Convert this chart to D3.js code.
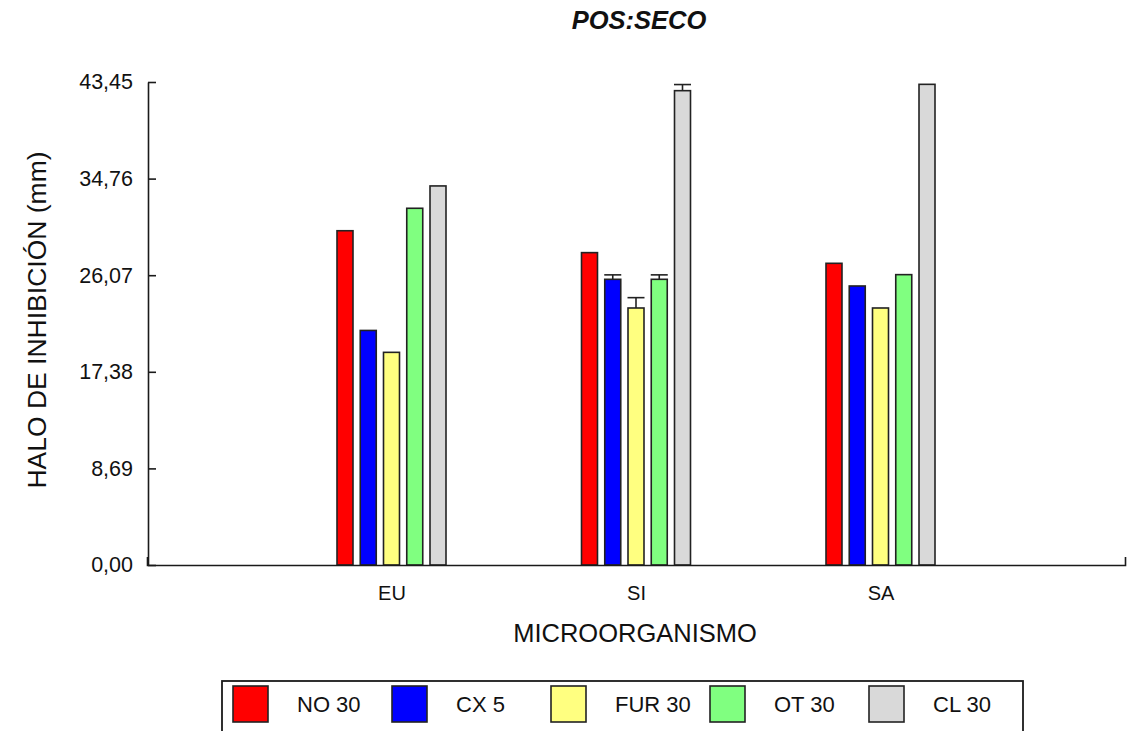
<!DOCTYPE html>
<html>
<head>
<meta charset="utf-8">
<script src="https://cdn.jsdelivr.net/npm/d3@7"></script>
<style>
html,body{margin:0;padding:0;background:#fff;}
svg{display:block;font-family:"Liberation Sans",Arial,sans-serif;}
</style>
</head>
<body>
<svg id="chart" width="1134" height="731"></svg>
<script>
const categories = ["EU", "SI", "SA"];
const seriesNames = ["NO 30", "CX 5", "FUR 30", "OT 30", "CL 30"];
const seriesColors = ["#ff0000", "#0000ff", "#ffff80", "#80ff80", "#d9d9d9"];
const valuesNO30  = [30.07, 28.10, 27.14];
const valuesCX5   = [21.10, 25.70, 25.10];
const valuesFUR30 = [19.13, 23.12, 23.12];
const valuesOT30  = [32.09, 25.70, 26.12];
const valuesCL30  = [34.10, 42.67, 43.24];
const errNO30  = [0, 0, 0];
const errCX5   = [0, 0.40, 0];
const errFUR30 = [0, 0.93, 0];
const errOT30  = [0, 0.40, 0];
const errCL30  = [0, 0.55, 0];
const yTicks = [0, 8.69, 17.38, 26.07, 34.76, 43.45];

const seriesValues = [valuesNO30, valuesCX5, valuesFUR30, valuesOT30, valuesCL30];
const seriesErrors = [errNO30, errCX5, errFUR30, errOT30, errCL30];

const svg = d3.select("#chart");
const axisColor = "#1a1a1a";

const y = d3.scaleLinear().domain([0, 43.45]).range([565, 82]);
const x = d3.scaleLinear().domain([0, 4]).range([147, 1125]);
const xs = d3.scaleBand().domain(seriesNames).range([-54.5, 54.5]).paddingInner(0.312);

// Title
svg.append("text").attr("x", 639).attr("y", 29).attr("text-anchor", "middle")
  .style("font-size", "25.5px").style("font-weight", "bold").style("font-style", "italic")
  .attr("fill", "#111").text("POS:SECO");

// Bars
const data = [];
categories.forEach((c, ci) => {
  seriesNames.forEach((s, si) => {
    data.push({cat: ci + 1, s, si, v: seriesValues[si][ci], e: seriesErrors[si][ci]});
  });
});

const g = svg.append("g");
g.selectAll("rect.bar").data(data).join("rect").attr("class", "bar")
  .attr("x", d => x(d.cat) + xs(d.s))
  .attr("y", d => y(d.v))
  .attr("width", xs.bandwidth())
  .attr("height", d => y(0) - y(d.v))
  .attr("fill", d => seriesColors[d.si])
  .attr("stroke", "#222").attr("stroke-width", 1.6);

// Error bars
const eb = data.filter(d => d.e > 0);
g.selectAll("line.err").data(eb).join("line").attr("class", "err")
  .attr("x1", d => x(d.cat) + xs(d.s) + xs.bandwidth() / 2)
  .attr("x2", d => x(d.cat) + xs(d.s) + xs.bandwidth() / 2)
  .attr("y1", d => y(d.v)).attr("y2", d => y(d.v + d.e))
  .attr("stroke", "#222").attr("stroke-width", 1.6);
g.selectAll("line.cap").data(eb).join("line").attr("class", "cap")
  .attr("x1", d => x(d.cat) + xs(d.s) - 0.5)
  .attr("x2", d => x(d.cat) + xs(d.s) + xs.bandwidth() + 0.5)
  .attr("y1", d => y(d.v + d.e)).attr("y2", d => y(d.v + d.e))
  .attr("stroke", "#222").attr("stroke-width", 1.6);

// Y axis
const yAxis = svg.append("g").attr("transform", "translate(148,0)")
  .call(d3.axisLeft(y).tickValues(yTicks).tickSizeInner(-8).tickSizeOuter(0).tickPadding(15)
    .tickFormat(d => d3.format(".2f")(d).replace(".", ",")));
yAxis.selectAll("path,line").attr("stroke", axisColor).attr("stroke-width", 1.6);
yAxis.selectAll("text").style("font-size", "21.5px").style("font-family", "'Liberation Sans',Arial,sans-serif").attr("fill", "#111");

// X axis
const xAxis = svg.append("g").attr("transform", "translate(0,565)")
  .call(d3.axisBottom(x).tickValues([1, 2, 3]).tickSizeInner(0).tickSizeOuter(-8).tickPadding(21)
    .tickFormat(d => categories[d - 1]));
xAxis.selectAll("path,line").attr("stroke", axisColor).attr("stroke-width", 1.6);
xAxis.selectAll("text").style("font-size", "20px").style("font-family", "'Liberation Sans',Arial,sans-serif").attr("fill", "#111");

// Axis titles
svg.append("text").attr("transform", "translate(46,320) rotate(-90)").attr("text-anchor", "middle")
  .style("font-size", "26.5px").attr("fill", "#111").text("HALO DE INHIBICIÓN (mm)");
svg.append("text").attr("x", 635).attr("y", 642).attr("text-anchor", "middle")
  .style("font-size", "25.5px").attr("fill", "#111").text("MICROORGANISMO");

// Legend
const lg = svg.append("g");
lg.append("rect").attr("x", 222).attr("y", 681).attr("width", 801).attr("height", 70)
  .attr("fill", "none").attr("stroke", axisColor).attr("stroke-width", 1.8);
const li = lg.selectAll("g.item").data(seriesNames).join("g").attr("class", "item")
  .attr("transform", (d, i) => `translate(${233 + i * 159},686)`);
li.append("rect").attr("width", 35).attr("height", 36)
  .attr("fill", (d, i) => seriesColors[i]).attr("stroke", "#222").attr("stroke-width", 1.6);
li.append("text").attr("x", 64).attr("y", 26).style("font-size", "22px").attr("fill", "#111").text(d => d);
</script>
</body>
</html>
